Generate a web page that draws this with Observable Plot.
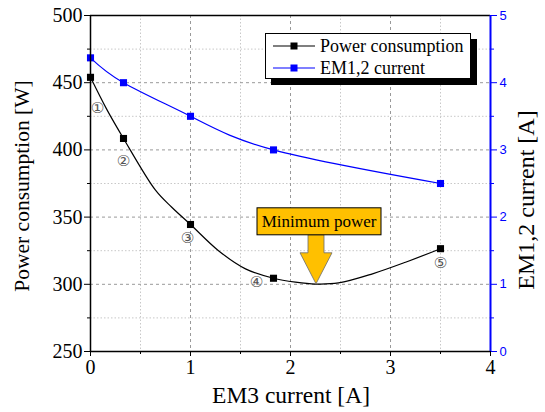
<!DOCTYPE html>
<html><head><meta charset="utf-8">
<script src="https://cdn.jsdelivr.net/npm/d3@7"></script>
<script src="https://cdn.jsdelivr.net/npm/@observablehq/plot@0.6"></script>
<style>
body{margin:0;background:#fff;}
#wrap{position:relative;width:545px;height:412px;font-family:"Liberation Serif","Times New Roman",serif;}
.title{position:absolute;color:#000;white-space:nowrap;line-height:1;}
#legend{position:absolute;left:265px;top:33px;width:206px;height:46px;box-sizing:border-box;border:1px solid #000;background:#fff;box-shadow:6px 6px 0 #000;font-size:18px;}
#legend .row{position:absolute;left:7px;height:22px;display:flex;align-items:center;line-height:1;}
#legend svg{margin-right:5px;}
</style></head><body><div id="wrap"></div>
<script>
// ---- data ----
const em3Current = [0, 0.33, 1, 1.83, 3.5];
const powerW = [454, 408.5, 344.5, 304.5, 326.5];
const em12Current = [4.37, 4.0, 3.5, 3.0, 2.5];
const pointLabels = ["①", "②", "③", "④", "⑤"];
// fitted power curve
const fitX = [0, 0.16, 0.33, 0.65, 0.81, 1.0, 1.28, 1.55, 1.83, 2.05, 2.25, 2.48, 2.82, 3.15, 3.5];
const fitW = [454, 430.5, 408.5, 370, 357.5, 344.5, 325, 311.5, 304.5, 301.6, 300.2, 301, 307.8, 316.4, 326.5];
const xTicks = [0, 1, 2, 3, 4];
const xMinorTicks = [0.5, 1.5, 2.5, 3.5];
const yTicks = [250, 300, 350, 400, 450, 500];
const yMinorTicks = [275, 325, 375, 425, 475];
const y2Ticks = [0, 1, 2, 3, 4, 5];
const y2MinorTicks = [0.5, 1.5, 2.5, 3.5, 4.5];
const minimumX = [2.26];
const minimumY = [300];
const minimumLabel = ["Minimum power"];
const seriesNames = ["Power consumption", "EM1,2 current"];
const axisTitles = {x: "EM3 current [A]", y: "Power consumption [W]", y2: "EM1,2 current [A]"};

// ---- helpers ----
const toW = a => 250 + a * 50;          // right axis (A) mapped onto left scale (W)
const fromW = w => (w - 250) / 50;
const data = em3Current.map((x, i) => ({x, power: powerW[i], em: em12Current[i], label: pointLabels[i]}));
const fit = fitX.map((x, i) => ({x, w: fitW[i]}));
const labelDx = [7, 0, -3, -17, 0];
const labelDy = [31, 23, 14, 4, 15];

const serif = "'Liberation Serif', 'Times New Roman', serif";
const sans = "'Liberation Sans', Arial, sans-serif";
const plot = Plot.plot({
  width: 545, height: 412,
  marginLeft: 90, marginRight: 55, marginTop: 15, marginBottom: 61,
  x: {domain: [0, 4]},
  y: {domain: [250, 500]},
  style: {fontFamily: serif, fontSize: "20px", color: "#000", background: "#fff"},
  marks: [
    Plot.gridX(xMinorTicks, {stroke: "#c8c8c8", strokeOpacity: 1, strokeDasharray: "1.5,2"}),
    Plot.gridY(yMinorTicks, {stroke: "#c8c8c8", strokeOpacity: 1, strokeDasharray: "1.5,2"}),
    Plot.gridX(xTicks.slice(1, -1), {stroke: "#999", strokeOpacity: 1, strokeDasharray: "3,3"}),
    Plot.gridY(yTicks.slice(1, -1), {stroke: "#999", strokeOpacity: 1, strokeDasharray: "3,3"}),
    Plot.line(fit, {x: "x", y: "w", curve: "catmull-rom", stroke: "#000", strokeWidth: 1.2}),
    Plot.line(data, {x: "x", y: d => toW(d.em), curve: "natural", stroke: "#0000ff", strokeWidth: 1.2}),
    Plot.dot(data, {x: "x", y: "power", symbol: "square", r: 4, fill: "#000", stroke: null}),
    Plot.dot(data, {x: "x", y: d => toW(d.em), symbol: "square", r: 4, fill: "#0000ff", stroke: null}),
    ...data.map((d, i) => Plot.text([d], {x: "x", y: "power", text: "label", dx: labelDx[i], dy: labelDy[i],
      fontFamily: "DejaVu Sans", fontSize: 15, fill: "#555"})),
    Plot.axisX({ticks: xTicks, tickFormat: d => String(d), tickSize: 5, tickPadding: 3, fontSize: 20, fontFamily: serif, label: null}),
    Plot.axisX({ticks: xMinorTicks, tickSize: 3, tickFormat: () => "", label: null}),
    Plot.axisY({ticks: yTicks, tickFormat: d => String(d), tickSize: 6, tickPadding: 2, fontSize: 20, fontFamily: serif, label: null}),
    Plot.axisY({ticks: yMinorTicks, tickSize: 3, tickFormat: () => "", label: null}),
    Plot.axisY({anchor: "right", ticks: y2Ticks.map(toW), tickFormat: d => String(fromW(d)), tickSize: 6, tickPadding: 3,
      color: "#0000ff", fontFamily: sans, fontSize: 13, label: null}),
    Plot.axisY({anchor: "right", ticks: y2MinorTicks.map(toW), tickFormat: () => "", tickSize: 3,
      color: "#0000ff", label: null}),
    Plot.ruleY([500], {stroke: "#000", strokeWidth: 1.5}),
    Plot.ruleY([250], {stroke: "#000", strokeWidth: 1.5}),
    Plot.ruleX([0], {stroke: "#000", strokeWidth: 1.5}),
    Plot.ruleX([4], {stroke: "#0000ff", strokeWidth: 2})
  ]
});
const wrap = document.getElementById("wrap");
wrap.appendChild(plot);

// ---- annotation arrow (positioned with the plot's own scales) ----
const sx = plot.scale("x"), sy = plot.scale("y");
const svg = d3.select(plot);
minimumX.forEach((mx, i) => {
  const tx = sx.apply(mx), ty = sy.apply(minimumY[i]);
  const g = svg.append("g");
  g.append("path")
    .attr("d", `M${tx-8},${ty-49}L${tx+8},${ty-49}L${tx+8},${ty-31}L${tx+16},${ty-31}L${tx},${ty}L${tx-16},${ty-31}L${tx-8},${ty-31}Z`)
    .attr("fill", "#FFC000").attr("stroke", "#6b6b6b").attr("stroke-width", 0.8);
  g.append("rect").attr("x", tx - 59).attr("y", ty - 76).attr("width", 124).attr("height", 27)
    .attr("fill", "#FFC000").attr("stroke", "#000").attr("stroke-width", 1);
  g.append("text").attr("x", tx + 3).attr("y", ty - 62).attr("text-anchor", "middle").attr("dominant-baseline", "central")
    .attr("font-family", serif).attr("font-size", 17).attr("fill", "#000").text(minimumLabel[i]);
});

// ---- axis titles ----
function addTitle(text, left, top, rotate, size) {
  const d = document.createElement("div");
  d.className = "title"; d.textContent = text;
  d.style.fontSize = size + "px";
  d.style.left = left + "px"; d.style.top = top + "px";
  d.style.transform = `translate(-50%,-50%)` + (rotate ? ` rotate(${rotate}deg)` : "");
  wrap.appendChild(d);
}
addTitle(axisTitles.x, 291, 396, 0, 23.5);
addTitle(axisTitles.y, 23, 186, -90, 21.5);
addTitle(axisTitles.y2, 526, 200, -90, 24);

// ---- legend ----
const legend = document.createElement("div");
legend.id = "legend";
const colors = ["#000", "#0000ff"];
seriesNames.forEach((name, i) => {
  const row = document.createElement("div");
  row.className = "row"; row.style.top = (1 + i * 22) + "px";
  row.innerHTML = `<svg width="42" height="10"><line x1="0" x2="42" y1="5" y2="5" stroke="${colors[i]}" stroke-width="1.2"/><rect x="17.5" y="1.5" width="7" height="7" fill="${colors[i]}"/></svg>`;
  const span = document.createElement("span"); span.textContent = name;
  row.appendChild(span);
  legend.appendChild(row);
});
wrap.appendChild(legend);
</script></body></html>
